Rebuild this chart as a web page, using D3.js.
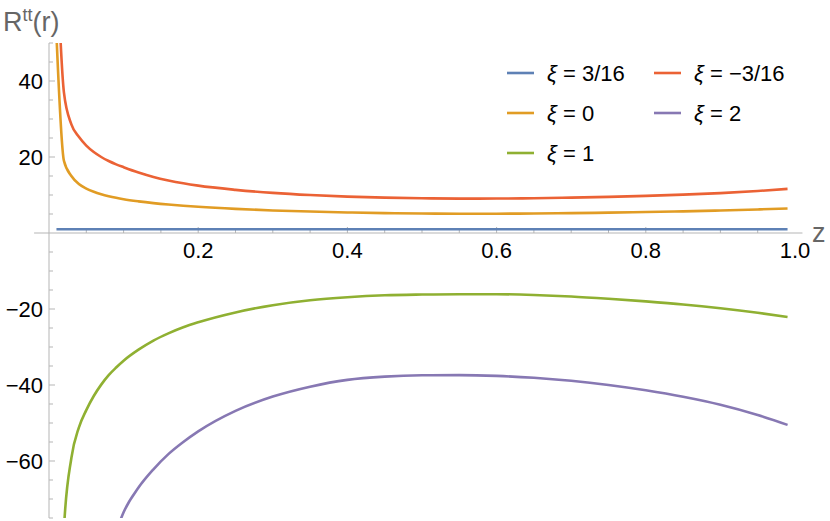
<!DOCTYPE html>
<html>
<head>
<meta charset="utf-8">
<script src="https://cdn.jsdelivr.net/npm/d3@7"></script>
<style>
  body { margin: 0; background: #fff; }
  text { font-family: "Liberation Sans", Arial, sans-serif; }
</style>
</head>
<body>
<div id="my_dataviz"></div>
<script>
// sample points along z
var zs = [0.01, 0.02, 0.03, 0.04, 0.05, 0.06, 0.07, 0.08, 0.09, 0.1, 0.12, 0.14, 0.16, 0.18, 0.2,
  0.25, 0.3, 0.35, 0.4, 0.45, 0.5, 0.55, 0.6, 0.65, 0.7, 0.75, 0.8, 0.85, 0.9, 0.95, 0.99];

// R^tt values, one array per xi
var xi316 = [1, 1, 1, 1, 1, 1, 1, 1, 1, 1, 1, 1, 1, 1, 1,
  1, 1, 1, 1, 1, 1, 1, 1, 1, 1, 1, 1, 1, 1, 1, 1];
var xi0 = [52, 19, 15.0, 12.9, 11.7, 10.85, 10.2, 9.68, 9.25, 8.89, 8.33, 7.87, 7.49, 7.17, 6.89,
  6.34, 5.94, 5.64, 5.41, 5.24, 5.13, 5.08, 5.08, 5.13, 5.22, 5.35, 5.51, 5.7, 5.93, 6.2, 6.45];
var xi1 = [-150, -78, -59.2, -51.2, -46.6, -42.9, -39.9, -37.4, -35.4, -33.6, -30.7, -28.3, -26.4, -24.8, -23.5,
  -20.9, -19.0, -17.7, -16.9, -16.4, -16.2, -16.1, -16.1, -16.3, -16.7, -17.3, -18.0, -18.8, -19.8, -21.0, -22.1];
var xiM316 = [75, 37, 28.6, 25.3, 23.0, 21.3, 20.0, 18.95, 18.07, 17.32, 15.92, 14.76, 13.84, 13.08, 12.46,
  11.36, 10.55, 9.98, 9.58, 9.3, 9.13, 9.05, 9.06, 9.15, 9.3, 9.5, 9.78, 10.1, 10.5, 11.05, 11.6];
var xi2 = [-360, -240, -185, -150, -125, -108, -95.2, -85.7, -78.7, -73.5, -67.0, -62.2, -58.2, -55.0, -52.2,
  -46.8, -43.05, -40.45, -38.65, -37.8, -37.45, -37.4, -37.6, -38.1, -38.9, -40.0, -41.4, -43.1, -45.2, -47.9, -50.5];

var seriesNames = ["3/16", "0", "1", "\u22123/16", "2"];
var seriesValues = [xi316, xi0, xi1, xiM316, xi2];
var seriesColors = ["#5e81b5", "#e19c24", "#8fb032", "#eb6235", "#8778b3"];

var xTicks = [0.2, 0.4, 0.6, 0.8, 1.0];
var yTicks = [-60, -40, -20, 20, 40];

var margin = { top: 43, right: 35, bottom: 3, left: 49 },
  width = 830 - margin.left - margin.right,
  height = 521 - margin.top - margin.bottom;

var svg = d3.select("#my_dataviz")
  .append("svg")
  .attr("width", 830)
  .attr("height", 521)
  .append("g")
  .attr("transform", "translate(" + margin.left + "," + margin.top + ")");

var x = d3.scaleLinear().domain([0, 1]).range([0, width]);
var y = d3.scaleLinear().domain([-75, 50]).range([height, 0]);

var axisColor = "#b5b5b5";

// clip for the curves
svg.append("clipPath").attr("id", "clip")
  .append("rect").attr("x", 0).attr("y", 0).attr("width", width).attr("height", height);

// minor + major ticks, pointing inward
var xMinor = d3.range(1, 20).map(function (i) { return i * 0.05; });
var yMinor = d3.range(-75, 51, 5).filter(function (v) { return v !== 0; });

svg.append("g")
  .selectAll("line")
  .data(xMinor)
  .enter()
  .append("line")
  .attr("x1", function (d) { return x(d); })
  .attr("x2", function (d) { return x(d); })
  .attr("y1", y(0))
  .attr("y2", function (d, i) { return y(0) - (i % 4 === 3 ? 6 : 4); })
  .attr("stroke", axisColor);

svg.append("g")
  .selectAll("line")
  .data(yMinor)
  .enter()
  .append("line")
  .attr("x1", 0)
  .attr("x2", function (d) { return d % 20 === 0 ? 6 : 4; })
  .attr("y1", function (d) { return y(d); })
  .attr("y2", function (d) { return y(d); })
  .attr("stroke", axisColor);

// axes lines
svg.append("line")
  .attr("x1", x(-0.02)).attr("x2", x(1.01))
  .attr("y1", y(0)).attr("y2", y(0))
  .attr("stroke", axisColor).attr("stroke-width", 1);
svg.append("line")
  .attr("x1", 0).attr("x2", 0)
  .attr("y1", 0).attr("y2", height)
  .attr("stroke", axisColor).attr("stroke-width", 1);

// tick labels
svg.append("g")
  .selectAll("text")
  .data(xTicks)
  .enter()
  .append("text")
  .attr("x", function (d) { return x(d); })
  .attr("y", y(0) + 25)
  .attr("text-anchor", "middle")
  .style("font-size", "22px")
  .style("fill", "#000")
  .text(d3.format(".1f"));

svg.append("g")
  .selectAll("text")
  .data(yTicks)
  .enter()
  .append("text")
  .attr("x", -6)
  .attr("y", function (d) { return y(d); })
  .attr("dy", "0.36em")
  .attr("text-anchor", "end")
  .style("font-size", "22px")
  .style("fill", "#000")
  .text(function (d) { return d < 0 ? "\u2212" + (-d) : d; });

// curves
var line = d3.line()
  .curve(d3.curveMonotoneX)
  .x(function (d) { return x(d[0]); })
  .y(function (d) { return y(d[1]); });

var curves = svg.append("g").attr("clip-path", "url(#clip)");
seriesValues.forEach(function (vals, i) {
  curves.append("path")
    .datum(zs.map(function (z, j) { return [z, vals[j]]; }))
    .attr("fill", "none")
    .attr("stroke", seriesColors[i])
    .attr("stroke-width", 2.6)
    .attr("d", line);
});

// axis labels
var ylab = d3.select("svg").append("text")
  .attr("x", 3)
  .attr("y", 31)
  .style("font-size", "27px")
  .style("fill", "#666");
ylab.append("tspan").text("R");
ylab.append("tspan").attr("dy", -10).style("font-size", "18px").text("tt");
ylab.append("tspan").attr("dy", 10).text("(r)");

d3.select("svg").append("text")
  .attr("x", 812)
  .attr("y", 242)
  .style("font-size", "27px")
  .style("fill", "#666")
  .text("z");

// legend
var legendPos = [[507, 73], [507, 113], [507, 153], [654, 73], [654, 113]];
var legend = d3.select("svg").append("g");
seriesNames.forEach(function (name, i) {
  var p = legendPos[i];
  legend.append("line")
    .attr("x1", p[0]).attr("x2", p[0] + 27)
    .attr("y1", p[1]).attr("y2", p[1])
    .attr("stroke", seriesColors[i])
    .attr("stroke-width", 2.6);
  var t = legend.append("text")
    .attr("x", p[0] + 40)
    .attr("y", p[1] + 8)
    .style("font-size", "22px")
    .style("fill", "#000");
  t.append("tspan").style("font-style", "italic").text("\u03be");
  t.append("tspan").text(" = " + name);
});
</script>
</body>
</html>
